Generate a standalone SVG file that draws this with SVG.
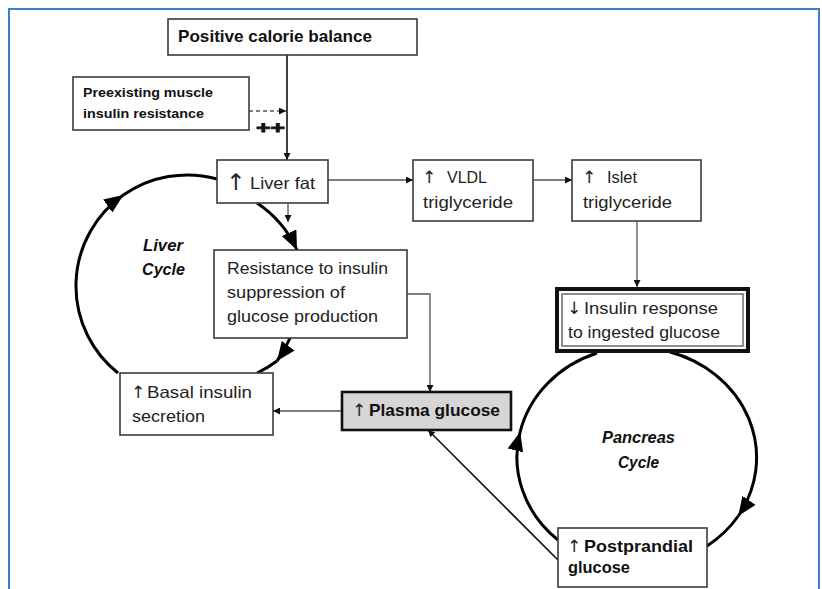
<svg xmlns="http://www.w3.org/2000/svg" width="822" height="589" viewBox="0 0 822 589">
<style>
.box{fill:#fff;stroke:#3a3a3a;stroke-width:1.6}
.t{font-family:"Liberation Sans",Arial,sans-serif;font-size:16.5px;fill:#222}
.b{font-weight:bold;fill:#111}
.s{font-size:13px}
.ci{font-weight:bold;font-style:italic;fill:#111}
.ar{font-family:"DejaVu Sans",sans-serif;font-weight:normal;fill:#222}
.c{fill:none;stroke:#555;stroke-width:1.3}
.k{fill:none;stroke:#111;stroke-width:1.6}
.cyc{fill:none;stroke:#000;stroke-width:3}
</style>
<defs>
<marker id="a" viewBox="0 0 10 10" refX="10" refY="5" markerWidth="7" markerHeight="7" markerUnits="userSpaceOnUse" orient="auto"><path d="M0,0L10,5L0,10z" fill="#111"/></marker>
<marker id="big" viewBox="0 0 10 10" refX="10" refY="5" markerWidth="19" markerHeight="16" markerUnits="userSpaceOnUse" orient="auto" preserveAspectRatio="none"><path d="M0,0L10,5L0,10z" fill="#000"/></marker>
</defs>
<path d="M9,589V9H819V589" fill="none" stroke="#3f7dc4" stroke-width="2"/>

<g id="connectors">
<path class="k" d="M287,55V160" marker-end="url(#a)"/>
<path d="M249,111H286" fill="none" stroke="#555" stroke-width="1.3" stroke-dasharray="4,3" marker-end="url(#a)"/>
<path class="c" d="M328,180H413" marker-end="url(#a)"/>
<path class="c" d="M533,180H572" marker-end="url(#a)"/>
<path class="c" d="M637,221V287" marker-end="url(#a)"/>
<path class="c" d="M288,203V222" marker-end="url(#a)"/>
<path class="c" d="M407,294H430V392" marker-end="url(#a)"/>
<path class="c" d="M342,411H273" marker-end="url(#a)"/>
<path class="k" d="M558,560L428,430" marker-end="url(#a)"/>
<!-- liver cycle -->
<path class="cyc" d="M118,373A111,111 0 0 1 123.3,195.1" marker-end="url(#big)"/>
<path class="cyc" d="M123.3,195.1A111,111 0 0 1 217,179"/>
<path class="cyc" d="M257,203A113,113 0 0 1 297,250" marker-end="url(#big)"/>
<path class="cyc" d="M290,338A113,113 0 0 1 277,361" marker-end="url(#big)"/>
<path class="cyc" d="M277,361A113,113 0 0 1 257,373"/>
<!-- pancreas cycle -->
<path class="cyc" d="M558,540A120,110 0 0 1 520.1,432" marker-end="url(#big)"/>
<path class="cyc" d="M520.1,432A120,110 0 0 1 597,353"/>
<path class="cyc" d="M670,352A120,110 0 0 1 738.3,516" marker-end="url(#big)"/>
<path class="cyc" d="M738.3,516A120,110 0 0 1 707,546"/>
<text class="t b" x="256" y="133" font-size="28" textLength="29" lengthAdjust="spacingAndGlyphs" stroke="#111" stroke-width="0.8">++</text>
</g>

<g id="positive"><rect class="box" x="168" y="19" width="249" height="36"/><text class="t b" x="178" y="42" font-size="17" textLength="194" lengthAdjust="spacingAndGlyphs">Positive calorie balance</text></g>
<g id="preexisting"><rect class="box" x="73" y="77" width="176" height="53"/><text class="t b s" x="83" y="97" textLength="130" lengthAdjust="spacingAndGlyphs">Preexisting muscle</text><text class="t b s" x="83" y="118" textLength="121" lengthAdjust="spacingAndGlyphs">insulin resistance</text></g>
<g id="liverfat"><rect class="box" x="217" y="160" width="111" height="43"/><text class="t" x="226" y="190" font-size="17"><tspan class="ar" font-size="23">↑</tspan><tspan x="250" y="189" textLength="65" lengthAdjust="spacingAndGlyphs">Liver fat</tspan></text></g>
<g id="vldl"><rect class="box" x="413" y="160" width="120" height="61"/><text class="t" x="422" y="183"><tspan class="ar" font-size="17">↑</tspan><tspan x="447" textLength="40" lengthAdjust="spacingAndGlyphs">VLDL</tspan></text><text class="t" x="423" y="208" textLength="90" lengthAdjust="spacingAndGlyphs">triglyceride</text></g>
<g id="islet"><rect class="box" x="572" y="160" width="129" height="61"/><text class="t" x="582" y="183"><tspan class="ar" font-size="17">↑</tspan><tspan x="607" textLength="30" lengthAdjust="spacingAndGlyphs">Islet</tspan></text><text class="t" x="583" y="208" textLength="89" lengthAdjust="spacingAndGlyphs">triglyceride</text></g>
<g id="resistance"><rect class="box" x="214" y="250" width="193" height="88"/><text class="t" x="227" y="274" textLength="161" lengthAdjust="spacingAndGlyphs">Resistance to insulin</text><text class="t" x="227" y="298" textLength="118" lengthAdjust="spacingAndGlyphs">suppression of</text><text class="t" x="227" y="322" textLength="151" lengthAdjust="spacingAndGlyphs">glucose production</text></g>
<g id="basal"><rect class="box" x="120" y="373" width="153" height="62"/><text class="t" x="131" y="398"><tspan class="ar" font-size="17">↑</tspan><tspan x="147" textLength="105" lengthAdjust="spacingAndGlyphs">Basal insulin</tspan></text><text class="t" x="132" y="422" textLength="73" lengthAdjust="spacingAndGlyphs">secretion</text></g>
<g id="plasma"><rect x="342" y="392" width="169" height="38" fill="#d6d6d6" stroke="#111" stroke-width="2.6"/><text class="t b" x="352" y="416"><tspan class="ar" font-size="17">↑</tspan><tspan x="369" textLength="131" lengthAdjust="spacingAndGlyphs">Plasma glucose</tspan></text></g>
<g id="insulin"><rect x="557" y="289" width="191" height="62" fill="#fff" stroke="#111" stroke-width="4"/><rect x="562" y="294" width="181" height="52" fill="none" stroke="#555" stroke-width="1.3"/><text class="t" x="567" y="314"><tspan class="ar" font-size="17">↓</tspan><tspan x="584" textLength="134" lengthAdjust="spacingAndGlyphs">Insulin response</tspan></text><text class="t" x="568" y="338" textLength="152" lengthAdjust="spacingAndGlyphs">to ingested glucose</text></g>
<g id="postprandial"><rect class="box" x="558" y="528" width="149" height="59"/><text class="t b" x="567" y="552"><tspan class="ar" font-size="17">↑</tspan><tspan x="584" textLength="109" lengthAdjust="spacingAndGlyphs">Postprandial</tspan></text><text class="t b" x="568" y="573" textLength="62" lengthAdjust="spacingAndGlyphs">glucose</text></g>
<g id="livercycle"><text class="t ci" x="143" y="251" textLength="40" lengthAdjust="spacingAndGlyphs">Liver</text><text class="t ci" x="142" y="275" textLength="43" lengthAdjust="spacingAndGlyphs">Cycle</text></g>
<g id="pancreascycle"><text class="t ci" x="602" y="443" textLength="73" lengthAdjust="spacingAndGlyphs">Pancreas</text><text class="t ci" x="618" y="468" textLength="41" lengthAdjust="spacingAndGlyphs">Cycle</text></g>
</svg>
